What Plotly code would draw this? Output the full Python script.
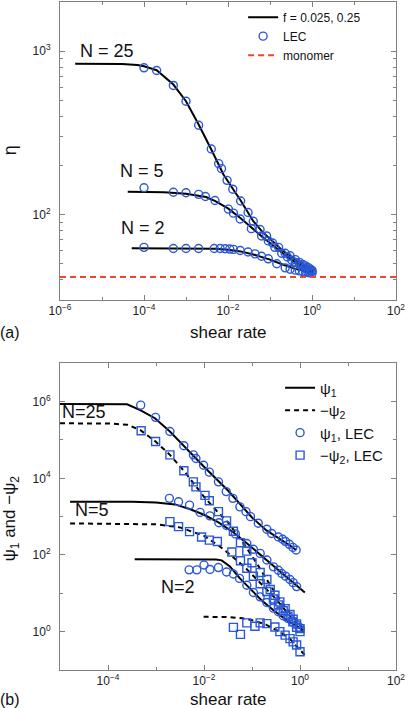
import plotly.graph_objects as go

# ================= panel (a): viscosity eta vs shear rate =================
ETA_N25_FIT_X = [2.3e-6, 1e-5, 3e-5, 7e-5, 1e-4, 2e-4, 5e-4, 1e-3, 2e-3, 4e-3, 7.8e-3, 1.35e-2, 2e-2, 4e-2, 7e-2, 0.1, 0.2, 0.4, 0.7, 1.05]
ETA_N25_FIT_Y = [837, 837, 835, 822, 808, 765, 625, 494, 356, 250, 176, 142, 122, 91, 77, 71, 60, 53, 48, 45.5]
ETA_N5_FIT_X = [4.1e-5, 1e-4, 3e-4, 1e-3, 2e-3, 3e-3, 5e-3, 1e-2, 2e-2, 4e-2, 7e-2, 0.1, 0.2, 0.4, 0.7, 1.05]
ETA_N5_FIT_Y = [138, 138, 137, 134, 131, 128, 121, 109, 95, 81, 72, 67, 58, 51, 47, 45]
ETA_N2_FIT_X = [5.1e-5, 1e-4, 1e-3, 5e-3, 1e-2, 2e-2, 4e-2, 0.1, 0.2, 0.4, 0.7, 1.05]
ETA_N2_FIT_Y = [62.2, 62.2, 62.2, 61.8, 61, 59.5, 57, 53, 49.5, 46.5, 45, 44]

ETA_N25_LEC_X = [1e-4, 2e-4, 5e-4, 1e-3, 2e-3, 4e-3, 6e-3, 7e-3, 9.5e-3, 1.3e-2, 2e-2, 3e-2, 4e-2, 5.8e-2, 8.3e-2, 0.115, 0.16, 0.23, 0.3, 0.4, 0.5, 0.6, 0.7, 0.8, 0.9, 1.0]
ETA_N25_LEC_Y = [791, 762, 617, 494, 352, 252, 205, 191, 162, 143, 121, 103, 91, 81, 74, 67, 63, 58, 56, 53, 51, 49.5, 48.5, 47.5, 46.5, 45.5]
ETA_N5_LEC_X = [1e-4, 5e-4, 1e-3, 2e-3, 2.9e-3, 4.9e-3, 1.02e-2, 1.35e-2, 1.95e-2, 3.6e-2, 6.3e-2, 9.1e-2, 0.13, 0.19, 0.26, 0.33, 0.4, 0.5, 0.6, 0.7, 0.8, 0.9, 1.0]
ETA_N5_LEC_Y = [146, 137, 136, 133, 129, 122, 108, 102, 94, 82, 74, 69, 63, 58, 55, 52.5, 51, 49.5, 48, 47, 46, 45.5, 45]
ETA_N2_LEC_X = [1e-4, 5e-4, 1e-3, 2e-3, 4.7e-3, 6.5e-3, 8.5e-3, 1.1e-2, 1.35e-2, 1.95e-2, 3e-2, 4.4e-2, 6.3e-2, 9.1e-2, 0.145, 0.23, 0.3, 0.4, 0.5, 0.6, 0.7, 0.8, 0.9, 1.0]
ETA_N2_LEC_Y = [63, 62, 62, 62, 62, 62, 61.8, 61.5, 61.2, 60.3, 59, 57.5, 55.6, 53.6, 50, 47.2, 46.3, 45.7, 45.2, 44.8, 44.5, 44.2, 44, 43.8]

MONOMER_ETA = 41.5
MONOMER_X = [1e-6, 1e2]

# ================= panel (b): normal stress coefficients =================
PSI1_N25_FIT_X = [1e-5, 1e-4, 2.5e-4, 4.7e-4, 9.5e-4, 1.95e-3, 3.8e-3, 1e-2, 3.16e-2, 0.1, 0.2, 0.355, 0.63, 0.83]
PSI1_N25_FIT_Y = [8.7e5, 8.7e5, 8.5e5, 6.0e5, 3.7e5, 1.66e5, 6.9e4, 2.0e4, 4.8e3, 955, 437, 282, 174, 135]
PSI2_N25_FIT_X = [1e-5, 1e-4, 2.5e-4, 4.7e-4, 9.8e-4, 1.95e-3, 3.8e-3, 6.8e-3, 1e-2, 2e-2, 3.16e-2, 6.3e-2, 0.126, 0.25, 0.5, 1.0, 1.26]
PSI2_N25_FIT_Y = [2.72e5, 2.7e5, 2.5e5, 1.82e5, 9.1e4, 4.1e4, 1.58e4, 6.3e3, 3.3e3, 1.26e3, 708, 224, 60, 15, 4.2, 1.5, 1.1]
PSI1_N5_FIT_X = [1.62e-5, 3.16e-4, 1e-3, 2.5e-3, 5e-3, 1e-2, 2e-2, 4e-2, 7.9e-2, 0.158, 0.316, 0.63, 1.26]
PSI1_N5_FIT_Y = [2.45e3, 2.45e3, 2.34e3, 2.09e3, 1.58e3, 1.12e3, 708, 398, 200, 95, 45, 21, 10.5]
PSI2_N5_FIT_X = [1.62e-5, 3.16e-4, 1e-3, 3.16e-3, 1e-2, 2e-2, 4e-2, 7.9e-2, 0.158, 0.316, 0.63, 1.26]
PSI2_N5_FIT_Y = [668, 661, 631, 525, 316, 178, 89, 42, 17.8, 7.1, 2.5, 0.89]
PSI1_N2_FIT_X = [3.6e-4, 3.16e-3, 1e-2, 1.78e-2, 2.34e-2, 3.47e-2, 5.6e-2, 9.1e-2, 0.158, 0.28, 0.525, 1.17]
PSI1_N2_FIT_Y = [78, 78, 77.6, 75.9, 72.4, 50, 24.5, 13.5, 6.6, 3.6, 2.0, 1.1]
PSI2_N2_FIT_X = [9.8e-3, 3.16e-2, 6.3e-2, 0.1, 0.2, 0.4, 0.63, 1.26]
PSI2_N2_FIT_Y = [2.45, 2.4, 2.24, 2.0, 1.51, 0.95, 0.63, 0.245]

PSI1_N25_LEC_X = [4.8e-4, 9.8e-4, 1.95e-3, 3.8e-3, 6e-3, 6.8e-3, 9.8e-3, 1.29e-2, 2e-2, 2.9e-2, 4e-2, 5.6e-2, 7.5e-2, 9.3e-2, 0.135, 0.204, 0.257, 0.355, 0.436, 0.5, 0.6, 0.71, 0.83]
PSI1_N25_LEC_Y = [8.1e5, 3.9e5, 1.66e5, 7.1e4, 4.1e4, 3.3e4, 2.2e4, 1.45e4, 8.1e3, 4.5e3, 3.0e3, 1.8e3, 1.35e3, 1.0e3, 676, 468, 363, 295, 257, 224, 190, 158, 135]
PSI2_N25_LEC_X = [4.9e-4, 9.8e-4, 1.95e-3, 3.8e-3, 6e-3, 6.8e-3, 1.05e-2, 1.29e-2, 2e-2, 2.95e-2, 4.1e-2, 5.75e-2, 7.8e-2, 0.1, 0.148, 0.204, 0.24, 0.3, 0.38, 0.49, 0.62, 0.72, 0.85, 1.0]
PSI2_N25_LEC_Y = [1.74e5, 9.1e4, 4.1e4, 1.58e4, 8.1e3, 6.0e3, 3.6e3, 2.6e3, 1.35e3, 776, 417, 209, 126, 63, 35, 23, 12.6, 8.9, 6.0, 4.0, 2.8, 2.1, 1.6, 1.2]
PSI1_N5_LEC_X = [1.9e-3, 2.95e-3, 5e-3, 8.3e-3, 1.33e-2, 2.04e-2, 2.95e-2, 4.5e-2, 7.8e-2, 0.107, 0.148, 0.204, 0.28, 0.355, 0.417, 0.5, 0.617, 0.72, 0.85]
PSI1_N5_LEC_Y = [3.0e3, 2.45e3, 2.0e3, 1.29e3, 1.05e3, 692, 589, 355, 200, 141, 110, 74, 49, 40, 33, 28, 23, 19, 15]
PSI2_N5_LEC_X = [1.95e-3, 2.95e-3, 5e-3, 8.9e-3, 1.29e-2, 1.9e-2, 3.8e-2, 5.75e-2, 7.8e-2, 0.107, 0.148, 0.204, 0.28, 0.355, 0.447, 0.56, 0.71, 0.85, 1.0]
PSI2_N5_LEC_Y = [741, 550, 407, 295, 245, 224, 120, 71, 45, 28, 17.8, 11.2, 7.1, 5.0, 3.5, 2.5, 1.8, 1.3, 1.0]
PSI1_N2_LEC_X = [4.9e-3, 7.1e-3, 1e-2, 1.33e-2, 2e-2, 2.95e-2, 4.1e-2, 5.5e-2, 7.8e-2, 0.107, 0.148, 0.204, 0.28, 0.355, 0.447, 0.56, 0.71, 0.85, 1.0]
PSI1_N2_LEC_Y = [41, 41, 55, 42, 47, 36, 32, 24.5, 16.2, 10.5, 8.1, 5.75, 4.1, 3.3, 2.6, 2.2, 1.78, 1.51, 1.26]
PSI2_N2_LEC_X = [4.1e-2, 5.75e-2, 7.8e-2, 0.115, 0.148, 0.204, 0.3, 0.38, 0.49, 0.62, 0.72, 0.85, 1.0]
PSI2_N2_LEC_Y = [1.29, 0.85, 1.7, 1.38, 1.7, 1.62, 1.32, 1.0, 0.81, 0.66, 0.54, 0.45, 0.30]

# labels
TOP_X_TICKS = [1e-6, 1e-4, 1e-2, 1e0, 1e2]
TOP_X_TEXT = ["10<sup>−6</sup>", "10<sup>−4</sup>", "10<sup>−2</sup>", "10<sup>0</sup>", "10<sup>2</sup>"]
TOP_Y_TICKS = [1e2, 1e3]
TOP_Y_TEXT = ["10<sup>2</sup>", "10<sup>3</sup>"]
BOT_X_TICKS = [1e-4, 1e-2, 1e0, 1e2]
BOT_X_TEXT = ["10<sup>−4</sup>", "10<sup>−2</sup>", "10<sup>0</sup>", "10<sup>2</sup>"]
BOT_Y_TICKS = [1e0, 1e2, 1e4, 1e6]
BOT_Y_TEXT = ["10<sup>0</sup>", "10<sup>2</sup>", "10<sup>4</sup>", "10<sup>6</sup>"]

FONT = "Liberation Sans, Arial, Helvetica, sans-serif"
BLUE = "#2a58d6"
RED = "#e8482c"
BLACK = "#000000"

fig = go.Figure()

def fit_line(x, y, xa, ya, dash="solid", name=None, show=False, legend="legend", group=None):
    fig.add_trace(go.Scatter(x=x, y=y, mode="lines", xaxis=xa, yaxis=ya,
                             line=dict(color=BLACK, width=2, dash=dash),
                             name=name, showlegend=show, legend=legend, legendgroup=group,
                             hoverinfo="skip"))

def lec(x, y, xa, ya, symbol="circle-open", name=None, show=False, legend="legend", group=None):
    fig.add_trace(go.Scatter(x=x, y=y, mode="markers", xaxis=xa, yaxis=ya,
                             marker=dict(symbol=symbol, size=8, color=BLUE,
                                         line=dict(color=BLUE, width=1.4)),
                             name=name, showlegend=show, legend=legend, legendgroup=group))

# panel (a)
fit_line(ETA_N25_FIT_X, ETA_N25_FIT_Y, "x", "y", name="f = 0.025, 0.25", show=True, group="fa")
fit_line(ETA_N5_FIT_X, ETA_N5_FIT_Y, "x", "y", group="fa")
fit_line(ETA_N2_FIT_X, ETA_N2_FIT_Y, "x", "y", group="fa")
lec(ETA_N25_LEC_X, ETA_N25_LEC_Y, "x", "y", name="LEC", show=True, group="la")
lec(ETA_N5_LEC_X, ETA_N5_LEC_Y, "x", "y", group="la")
lec(ETA_N2_LEC_X, ETA_N2_LEC_Y, "x", "y", group="la")
fig.add_trace(go.Scatter(x=MONOMER_X, y=[MONOMER_ETA] * len(MONOMER_X), mode="lines",
                         xaxis="x", yaxis="y", name="monomer", legend="legend",
                         line=dict(color=RED, width=2, dash="6px,4px")))

# panel (b)
fit_line(PSI1_N25_FIT_X, PSI1_N25_FIT_Y, "x2", "y2", name="ψ<sub>1</sub>", show=True, legend="legend2", group="p1")
fit_line(PSI1_N5_FIT_X, PSI1_N5_FIT_Y, "x2", "y2", legend="legend2", group="p1")
fit_line(PSI1_N2_FIT_X, PSI1_N2_FIT_Y, "x2", "y2", legend="legend2", group="p1")
fit_line(PSI2_N25_FIT_X, PSI2_N25_FIT_Y, "x2", "y2", dash="5px,4px", name="−ψ<sub>2</sub>", show=True, legend="legend2", group="p2")
fit_line(PSI2_N5_FIT_X, PSI2_N5_FIT_Y, "x2", "y2", dash="5px,4px", legend="legend2", group="p2")
fit_line(PSI2_N2_FIT_X, PSI2_N2_FIT_Y, "x2", "y2", dash="5px,4px", legend="legend2", group="p2")
lec(PSI1_N25_LEC_X, PSI1_N25_LEC_Y, "x2", "y2", name="ψ<sub>1</sub>, LEC", show=True, legend="legend2", group="c1")
lec(PSI1_N5_LEC_X, PSI1_N5_LEC_Y, "x2", "y2", legend="legend2", group="c1")
lec(PSI1_N2_LEC_X, PSI1_N2_LEC_Y, "x2", "y2", legend="legend2", group="c1")
lec(PSI2_N25_LEC_X, PSI2_N25_LEC_Y, "x2", "y2", symbol="square-open", name="−ψ<sub>2</sub>, LEC", show=True, legend="legend2", group="c2")
lec(PSI2_N5_LEC_X, PSI2_N5_LEC_Y, "x2", "y2", symbol="square-open", legend="legend2", group="c2")
lec(PSI2_N2_LEC_X, PSI2_N2_LEC_Y, "x2", "y2", symbol="square-open", legend="legend2", group="c2")

AX_COLOR = "#808080"
def axis(rng, tickvals, ticktext, minor_vals, domain=None, anchor=None, standoff=None):
    d = dict(type="log", range=rng, tickmode="array", tickvals=tickvals, ticktext=ticktext,
             showline=True, linecolor=AX_COLOR, linewidth=1, mirror="ticks",
             ticks="inside", ticklen=5, tickcolor=AX_COLOR, tickwidth=1,
             showgrid=False, zeroline=False,
             tickfont=dict(family=FONT, size=12, color="#222222"),
             minor=dict(tickvals=minor_vals, ticks="inside", ticklen=3, tickcolor=AX_COLOR, showgrid=False))
    if domain is not None:
        d["domain"] = domain
    if anchor is not None:
        d["anchor"] = anchor
    if standoff is not None:
        d["ticklabelstandoff"] = standoff
    return d

top_y_minor = [v * m for v in (10, 100, 1000) for m in range(2, 10)]
bot_x_minor = [1e-5, 1e-3, 1e-1, 1e1]
bot_y_minor = [1e-1, 1e1, 1e3, 1e5, 1e7]
top_x_minor = [1e-5, 1e-3, 1e-1, 1e1]

fig.update_layout(
    width=408, height=708,
    margin=dict(l=60, r=12, t=2, b=38),
    paper_bgcolor="white", plot_bgcolor="white",
    font=dict(family=FONT, color="#111111"),
    xaxis=axis([-6, 2], TOP_X_TICKS, TOP_X_TEXT, top_x_minor, anchor="y"),
    yaxis=axis([1.4771, 3.3010], TOP_Y_TICKS, TOP_Y_TEXT, top_y_minor, domain=[0.5539, 1.0], anchor="x", standoff=6),
    xaxis2=axis([-5, 2], BOT_X_TICKS, BOT_X_TEXT, bot_x_minor, anchor="y2"),
    yaxis2=axis([-1, 7], BOT_Y_TICKS, BOT_Y_TEXT, bot_y_minor, domain=[0.0, 0.4591], anchor="x2", standoff=6),
    legend=dict(x=0.545, y=0.999, xanchor="left", yanchor="top", bgcolor="rgba(0,0,0,0)",
                font=dict(family=FONT, size=12, color="#111111"), tracegroupgap=0, itemwidth=30),
    legend2=dict(x=0.655, y=0.447, xanchor="left", yanchor="top", bgcolor="rgba(0,0,0,0)",
                 font=dict(family=FONT, size=15, color="#111111"), tracegroupgap=0, itemwidth=30),
    showlegend=True,
)

ann = []
def label(text, x, y, xref, yref, size, angle=0):
    ann.append(dict(text=text, x=x, y=y, xref=xref, yref=yref, showarrow=False,
                    xanchor="center", yanchor="middle", textangle=angle,
                    font=dict(family=FONT, size=size, color="#111111")))

# curve labels (log10 coordinates on log axes)
label("N = 25", -4.888, 3.001, "x", "y", 18)
label("N = 5", -4.055, 2.269, "x", "y", 18)
label("N = 2", -4.016, 1.917, "x", "y", 18)
label("N=25", -4.49, 5.739, "x2", "y2", 18)
label("N=5", -4.34, 3.172, "x2", "y2", 18)
label("N=2", -2.535, 1.17, "x2", "y2", 18)

# axis titles & panel tags (paper coordinates)
label("shear rate", 0.5, 0.5045, "paper", "paper", 17)
label("(a)", -0.1488, 0.5045, "paper", "paper", 16)
label("η", -0.1488, 0.778, "paper", "paper", 18, angle=-90)
label("shear rate", 0.5, -0.0449, "paper", "paper", 17)
label("(b)", -0.1488, -0.0449, "paper", "paper", 16)
label("ψ<sub>1</sub> and −ψ<sub>2</sub>", -0.145, 0.2275, "paper", "paper", 17, angle=-90)

fig.update_layout(annotations=ann)
fig.write_html("out.html",
               config={"displayModeBar": False},
               post_script="document.body.style.margin='0px';document.body.style.overflow='hidden';")
